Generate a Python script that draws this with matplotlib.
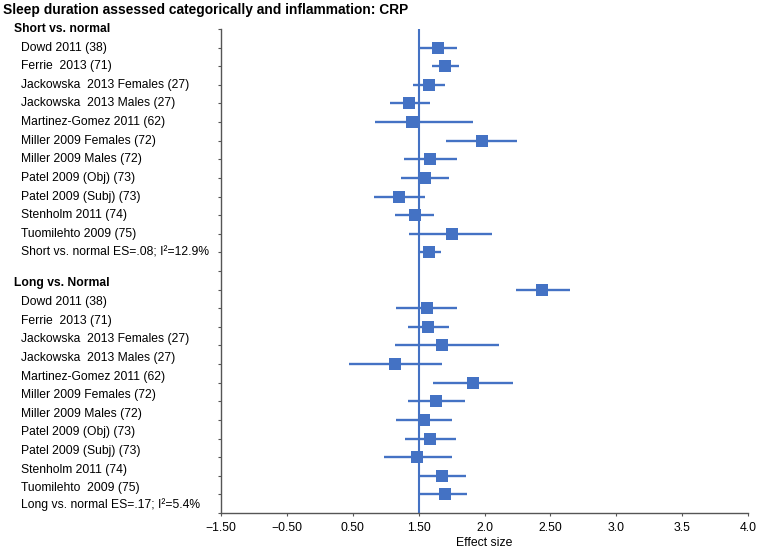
import matplotlib
matplotlib.use("Agg")
import matplotlib.pyplot as plt
import matplotlib.transforms as mtransforms
import numpy as np

plt.rcParams['font.family'] = ['Liberation Sans', 'DejaVu Sans']

title = "Sleep duration assessed categorically and inflammation: CRP"
studies = ["Dowd 2011 (38)", "Ferrie  2013 (71)", "Jackowska  2013 Females (27)",
           "Jackowska  2013 Males (27)", "Martinez-Gomez 2011 (62)",
           "Miller 2009 Females (72)", "Miller 2009 Males (72)",
           "Patel 2009 (Obj) (73)", "Patel 2009 (Subj) (73)",
           "Stenholm 2011 (74)"]
short_last = "Tuomilehto 2009 (75)"
long_last = "Tuomilehto  2009 (75)"
short_header = "Short vs. normal"
long_header = "Long vs. Normal"
short_summary_label = "Short vs. normal ES=.08; I²=12.9%"
long_summary_label = "Long vs. normal ES=.17; I²=5.4%"

# effect sizes (studies then pooled), with CI bounds
short_es = [0.15, 0.20, 0.08, -0.07, -0.05, 0.48, 0.09, 0.05, -0.15, -0.03, 0.25, 0.08]
short_lo = [0.01, 0.10, -0.04, -0.22, -0.33, 0.21, -0.11, -0.13, -0.34, -0.18, -0.07, 0.01]
short_hi = [0.29, 0.31, 0.20, 0.09, 0.41, 0.75, 0.29, 0.23, 0.05, 0.12, 0.56, 0.17]

long_es = [0.94, 0.06, 0.07, 0.18, -0.18, 0.41, 0.13, 0.04, 0.09, -0.01, 0.18, 0.20]
long_lo = [0.74, -0.17, -0.08, -0.18, -0.53, 0.11, -0.08, -0.17, -0.10, -0.26, 0.01, 0.01]
long_hi = [1.15, 0.29, 0.23, 0.61, 0.18, 0.72, 0.35, 0.25, 0.28, 0.25, 0.36, 0.37]

xticks = [-1.5, -1.0, -0.5, 0.0, 0.5, 1.0, 1.5, 2.0, 2.5]
xticklabels = ["\u22121.50", "\u22120.50", "0.50", "1.50", "2.0", "2.50", "3.0", "3.5", "4.0"]

blue = "#4472C4"

fig = plt.figure(figsize=(7.57, 5.53), dpi=100)
W, H = 757, 553
ax = fig.add_axes([221 / W, 1 - 513 / H, (748 - 221) / W, (513 - 29) / H])

n_rows = 26
short_y = np.arange(1, 13)
long_y = np.arange(14, 26)

for ys, es, lo, hi in [(short_y, short_es, short_lo, short_hi),
                       (long_y, long_es, long_lo, long_hi)]:
    es = np.array(es); lo = np.array(lo); hi = np.array(hi)
    ax.errorbar(es, ys, xerr=[es - lo, hi - es], fmt='s', color=blue,
                ecolor=blue, elinewidth=1.7, capsize=0, markersize=8.3,
                markeredgewidth=0, zorder=3)

ax.axvline(0, color=blue, lw=1.5, zorder=2)

ax.set_xlim(-1.5, 2.5)
ax.set_ylim(n_rows, 0)
ax.set_xticks(xticks)
ax.set_xticklabels(xticklabels, fontsize=8.8)
ax.set_yticks(np.arange(0, n_rows + 1))
ax.set_yticklabels([])
ax.tick_params(axis='y', direction='out', length=2.5, width=0.8, color='#555555')
ax.tick_params(axis='x', direction='out', length=2.5, width=0.8, color='#555555', pad=4)
for s in ['top', 'right']:
    ax.spines[s].set_visible(False)
for s in ['left', 'bottom']:
    ax.spines[s].set_color('#555555')
    ax.spines[s].set_linewidth(1.0)
ax.set_xlabel("Effect size", fontsize=8.8, labelpad=2)

# left labels
trans = mtransforms.blended_transform_factory(fig.transFigure, ax.transData)
hx = 14 / W
sx = 21 / W
lab_fs = 8.7
ax.text(hx, 0, short_header, transform=trans, fontsize=lab_fs, fontweight='bold', va='center', ha='left')
for i, s in enumerate(studies + [short_last]):
    ax.text(sx, 1 + i, s, transform=trans, fontsize=lab_fs, va='center', ha='left')
ax.text(sx, 12, short_summary_label, transform=trans, fontsize=lab_fs, va='center', ha='left')

off = -0.33
ax.text(hx, 14 + off, long_header, transform=trans, fontsize=lab_fs, fontweight='bold', va='center', ha='left')
for i, s in enumerate(studies + [long_last]):
    ax.text(sx, 15 + i + off, s, transform=trans, fontsize=lab_fs, va='center', ha='left')
ax.text(sx, 26 + off - 0.1, long_summary_label, transform=trans, fontsize=lab_fs, va='center', ha='left')

fig.text(3 / W, 1 - 10 / H, title, fontsize=9.9, fontweight='bold', va='center', ha='left')

fig.savefig("out.png", dpi=100)
